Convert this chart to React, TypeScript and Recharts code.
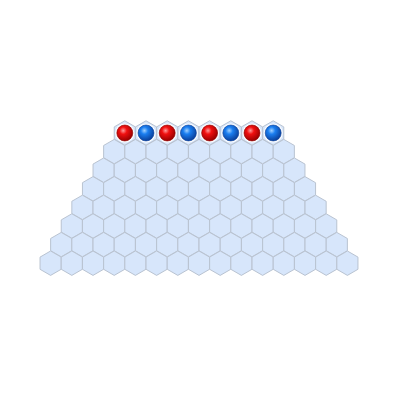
import { ScatterChart, Scatter, XAxis, YAxis } from "recharts";

const rowCounts = [8, 9, 10, 11, 12, 13, 14, 15];
const ballColors = ["red", "blue", "red", "blue", "red", "blue", "red", "blue"];

const cells = rowCounts.flatMap((n, r) =>
  Array.from({ length: n }, (_, i) => ({ x: i - (n - 1) / 2, y: r }))
);
const balls = ballColors.map((c, i) => ({ x: i - (ballColors.length - 1) / 2, y: 0, color: c }));

const R = 12.2;

function Hex(props: any) {
  const { cx, cy } = props;
  const pts = Array.from({ length: 6 }, (_, k) => {
    const a = (Math.PI / 3) * k - Math.PI / 2;
    return `${cx + R * Math.cos(a)},${cy + R * Math.sin(a)}`;
  }).join(" ");
  return <polygon points={pts} fill="#d7e6fb" stroke="#b9c3d1" strokeWidth={1} />;
}

function Ball(props: any) {
  const { cx, cy, payload } = props;
  return (
    <g>
      <circle cx={cx} cy={cy} r={9.5} fill="#fff" />
      <circle cx={cx} cy={cy} r={8} fill={`url(#g-${payload.color})`} stroke={payload.color === "red" ? "#8a0000" : "#0a3f9a"} strokeWidth={0.6} />
    </g>
  );
}

export default function App() {
  return (
    <div style={{ position: "absolute", left: 0, top: 0 }}>
      <ScatterChart width={400} height={400} margin={{ top: 0, right: 0, bottom: 0, left: 0 }}>
        <defs>
          <radialGradient id="g-red" cx="40%" cy="35%" r="65%">
            <stop offset="0%" stopColor="#ff9a9a" />
            <stop offset="35%" stopColor="#f01010" />
            <stop offset="100%" stopColor="#9a0000" />
          </radialGradient>
          <radialGradient id="g-blue" cx="40%" cy="35%" r="65%">
            <stop offset="0%" stopColor="#9fd0ff" />
            <stop offset="35%" stopColor="#1a7ef0" />
            <stop offset="100%" stopColor="#0a3f9a" />
          </radialGradient>
        </defs>
        <XAxis type="number" dataKey="x" domain={[-9.387, 9.481]} hide />
        <YAxis type="number" dataKey="y" domain={[-7.15, 14.355]} reversed hide />
        <Scatter data={cells} shape={<Hex />} isAnimationActive={false} />
        <Scatter data={balls} shape={<Ball />} isAnimationActive={false} />
      </ScatterChart>
    </div>
  );
}
